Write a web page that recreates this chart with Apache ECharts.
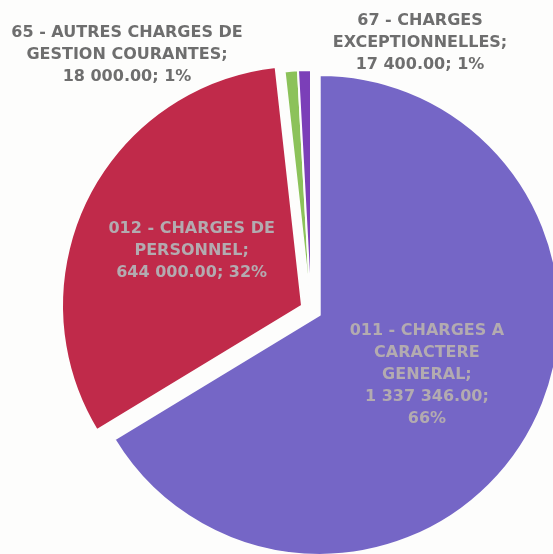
<!DOCTYPE html>
<html>
<head>
<meta charset="utf-8">
<script src="https://cdn.jsdelivr.net/npm/echarts@6/dist/echarts.min.js"></script>
<style>
  html, body { margin: 0; padding: 0; background: #fdfdfc; }
  #chart { width: 553px; height: 554px; }
</style>
</head>
<body>
<div id="chart"></div>
<script>
'use strict';

// données (libellés coupés comme dans l'original)
var categories = [
  '011 - CHARGES A\nCARACTERE\nGENERAL',
  '012 - CHARGES DE\nPERSONNEL',
  '65 - AUTRES CHARGES DE\nGESTION COURANTES',
  '67 - CHARGES\nEXCEPTIONNELLES'
];
var values = [1337346.00, 644000.00, 18000.00, 17400.00];
var colors = ['#7566c6', '#c02a4a', '#8cc25a', '#7b3fb8'];
var exploded = [true, true, false, false];
var valueBreak = ['\n', ' ', ' ', ' '];

// position des étiquettes (x, y) : centre du bloc de texte
var labelPos = [[413, 331], [199, 248], [127, 55], [420, 43]];

function fmtNum(v) {
  var parts = v.toFixed(2).split('.');
  return parts[0].replace(/\B(?=(\d{3})+(?!\d))/g, ' ') + '.' + parts[1];
}

var chart = echarts.init(document.getElementById('chart'));

var data = [];
for (var i = 0; i < categories.length; i++) {
  var inside = i < 2;
  data.push({
    name: categories[i],
    value: values[i],
    selected: exploded[i],
    itemStyle: { color: colors[i] },
    label: {
      position: inside ? 'inside' : 'outside',
      color: inside ? '#b3abb0' : '#6e6e6e'
    },
    labelLine: { show: false }
  });
}

chart.setOption({
  animation: false,
  series: [{
    type: 'pie',
    center: [311, 310],
    radius: [0, 240],
    startAngle: 90,
    clockwise: true,
    selectedMode: 'multiple',
    selectedOffset: 10,
    percentPrecision: 0,
    avoidLabelOverlap: false,
    emphasis: { disabled: true },
    itemStyle: {
      borderColor: '#fdfdfc',
      borderWidth: 2
    },
    label: {
      show: true,
      fontFamily: 'DejaVu Sans',
      fontSize: 16,
      fontWeight: 'bold',
      lineHeight: 22,
      align: 'center',
      formatter: function (p) {
        return p.name + ';\n' + fmtNum(p.value) + ';' + valueBreak[p.dataIndex] + p.percent + '%';
      }
    },
    labelLayout: function (p) {
      var pos = labelPos[p.dataIndex];
      return {
        x: pos[0],
        y: pos[1],
        align: 'center',
        verticalAlign: 'middle'
      };
    },
    data: data
  }]
});
</script>
</body>
</html>
